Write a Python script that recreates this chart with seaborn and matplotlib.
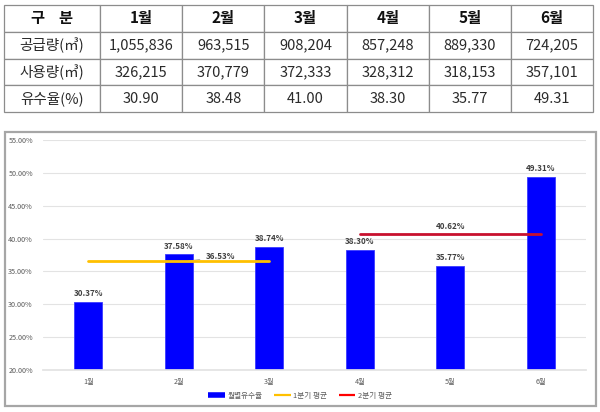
import matplotlib
matplotlib.use("Agg")
from matplotlib import pyplot as plt
import matplotlib.patches as mpatches
from matplotlib.lines import Line2D
from matplotlib.ticker import FuncFormatter
import pandas as pd
import seaborn as sns

# table data
row_labels = ["공급량(㎥)", "사용량(㎥)", "유수율(%)"]
months = ["1월", "2월", "3월", "4월", "5월", "6월"]
supply = ["1,055,836", "963,515", "908,204", "857,248", "889,330", "724,205"]
usage = ["326,215", "370,779", "372,333", "328,312", "318,153", "357,101"]
ratio_text = ["30.90", "38.48", "41.00", "38.30", "35.77", "49.31"]

# chart data
monthly_rate = [30.37, 37.58, 38.74, 38.30, 35.77, 49.31]
q1_avg = 36.53
q2_avg = 40.62
q1_months = ["1월", "2월", "3월"]
q2_months = ["4월", "5월", "6월"]

sns.set_theme(style="white")
plt.rcParams['font.family'] = ['Noto Sans CJK KR', 'DejaVu Sans']

W, H = 600, 412
fig = plt.figure(figsize=(6, 4.12), dpi=100)

# ---- table on top ----
tax = fig.add_axes([4 / W, 1 - 112 / H, 589 / W, 107 / H])
tax.axis("off")
cells = [supply, usage, ratio_text]
cell_text = [["구    분"] + months] + [[lab] + vals for lab, vals in zip(row_labels, cells)]
tbl = tax.table(cellText=cell_text, bbox=[0, 0, 1, 1], cellLoc="center",
                colWidths=[96] + [82] * 6)
tbl.auto_set_font_size(False)
for (r, c), cell in tbl.get_celld().items():
    cell.set_edgecolor("#8c8c8c")
    cell.set_linewidth(0.9)
    txt = cell.get_text()
    if r == 0:
        txt.set_fontsize(11)
        txt.set_fontweight("bold")
        txt.set_color("#111111")
    else:
        txt.set_fontsize(10.5)
        txt.set_color("#2a2a2a")

# ---- chart frame ----
fig.patches.append(mpatches.Rectangle((5 / W, 1 - 406 / H), 591 / W, 274 / H,
                                      transform=fig.transFigure, fill=False,
                                      ec="#a6a6a6", lw=1.6))

ax = fig.add_axes([43 / W, 1 - 370 / H, 543 / W, 230 / H])
df = pd.DataFrame({"month": months, "rate": monthly_rate})
sns.barplot(data=df, x="month", y="rate", color="#0000ff", saturation=1,
            width=0.31, ax=ax, edgecolor="#3b3bff", linewidth=0.6)

for i, v in enumerate(monthly_rate):
    ax.text(i, v + 0.6, f"{v:.2f}%", ha="center", va="bottom",
            fontsize=5.8, fontweight="bold", color="#404040")

x1 = [months.index(m) for m in q1_months]
x2 = [months.index(m) for m in q2_months]
ax.plot([x1[0], x1[-1]], [q1_avg, q1_avg], color="#ffc000", lw=2, zorder=4)
ax.plot([x2[0], x2[-1]], [q2_avg, q2_avg], color="#c8102e", lw=2, zorder=4)

ax.annotate(f"{q1_avg:.2f}%", xy=(1.08, q1_avg), xytext=(1.3, q1_avg + 0.75),
            fontsize=5.8, fontweight="bold", color="#404040", va="center",
            arrowprops=dict(arrowstyle="-", color="#a6a6a6", lw=0.6))
ax.text((x2[0] + x2[-1]) / 2, q2_avg + 0.5, f"{q2_avg:.2f}%", ha="center",
        va="bottom", fontsize=5.8, fontweight="bold", color="#404040")

ax.set_ylim(20, 55)
ax.set_xlim(-0.5, 5.5)
ax.set_yticks([20, 25, 30, 35, 40, 45, 50, 55])
ax.yaxis.set_major_formatter(FuncFormatter(lambda v, p: f"{v:.2f}%"))
ax.tick_params(axis="both", labelsize=5.2, colors="#595959", length=0, pad=6)
ax.tick_params(axis="y", pad=25)
for lab in ax.get_yticklabels():
    lab.set_horizontalalignment("left")
ax.set_xlabel("")
ax.set_ylabel("")
ax.grid(axis="y", color="#e3e3e3", lw=0.8)
ax.set_axisbelow(True)
for s in ax.spines.values():
    s.set_visible(False)
ax.spines["bottom"].set_visible(True)
ax.spines["bottom"].set_color("#e3e3e3")

handles = [Line2D([], [], color="#0000ff", lw=4, solid_capstyle="butt"),
           Line2D([], [], color="#ffc000", lw=1.6, solid_capstyle="butt"),
           Line2D([], [], color="#ff0000", lw=1.6, solid_capstyle="butt")]
fig.legend(handles, ["월별유수율", "1분기 평균", "2분기 평균"], loc="center",
           bbox_to_anchor=(0.5, 1 - 396 / H), ncol=3, frameon=False,
           fontsize=5.5, handlelength=2.2, handletextpad=0.3, columnspacing=1.5,
           labelcolor="#595959")

fig.savefig("out.png", dpi=100)
